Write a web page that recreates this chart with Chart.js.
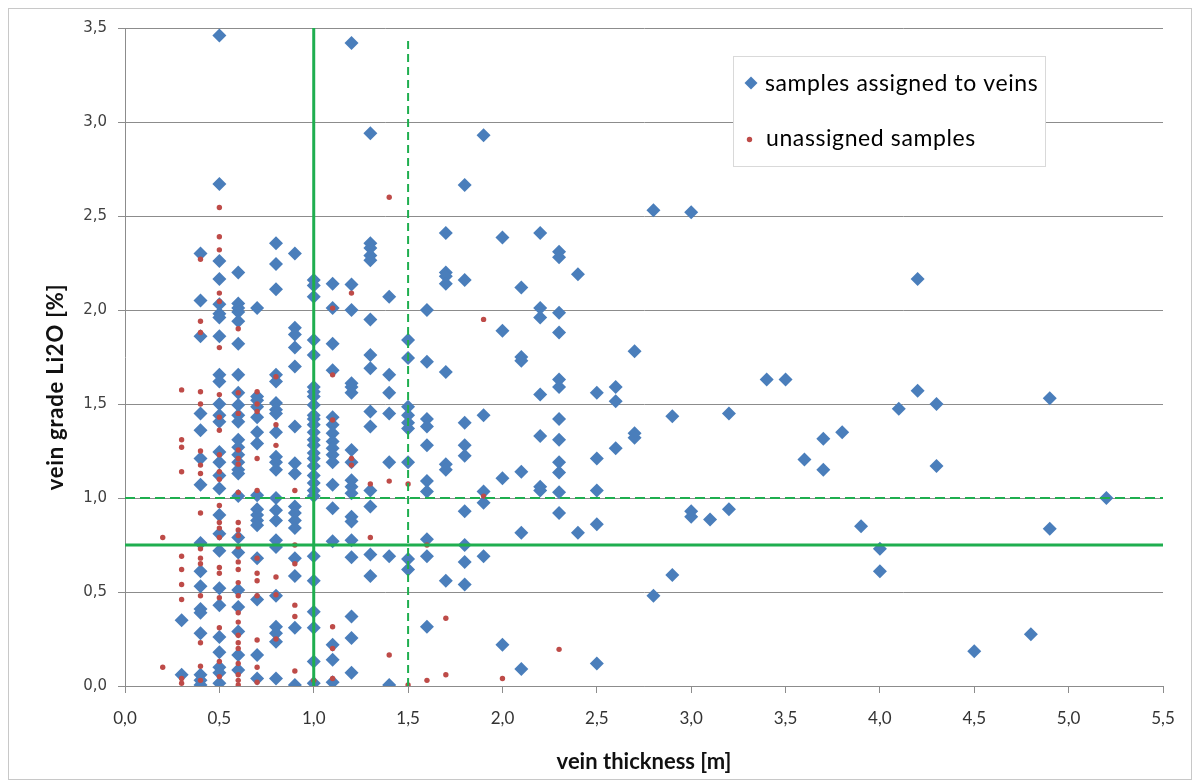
<!DOCTYPE html>
<html><head><meta charset="utf-8">
<script src="https://cdn.jsdelivr.net/npm/chart.js@4/dist/chart.umd.min.js"></script>
<style>html,body{margin:0;padding:0;background:#fff}#wrap{width:1200px;height:784px;position:relative}</style>
</head><body><div id="wrap"><canvas id="c" width="1200" height="784"></canvas></div>
<script>
// ---- data: [thickness, [grades...]] ----
const assignedByThickness = [
 [0.3,[0.35,0.06]],
 [0.4,[2.30,2.05,1.86,1.45,1.36,1.21,1.07,0.76,0.61,0.53,0.41,0.39,0.28,0.06,0.03,0.005]],
 [0.5,[3.46,2.67,2.26,2.165,2.03,1.98,1.96,1.86,1.655,1.62,1.50,1.44,1.405,1.245,1.19,1.12,1.05,0.91,0.81,0.72,0.52,0.43,0.26,0.18,0.10,0.07,0.015]],
 [0.6,[2.20,2.035,2.01,1.99,1.94,1.82,1.655,1.56,1.495,1.44,1.405,1.31,1.27,1.23,1.19,1.15,1.13,1.01,0.79,0.71,0.51,0.42,0.29,0.165,0.085]],
 [0.7,[2.01,1.54,1.52,1.485,1.43,1.35,1.29,1.015,0.94,0.91,0.88,0.855,0.68,0.46,0.165,0.04]],
 [0.8,[2.355,2.245,2.11,1.655,1.62,1.505,1.47,1.45,1.35,1.22,1.19,1.15,1.0,0.935,0.88,0.775,0.74,0.48,0.315,0.28,0.235,0.04]],
 [0.9,[2.30,1.905,1.87,1.80,1.70,1.38,1.185,1.13,0.955,0.92,0.88,0.84,0.68,0.585,0.31,0.005]],
 [1.0,[2.16,2.13,2.07,1.84,1.76,1.59,1.565,1.54,1.495,1.44,1.42,1.39,1.35,1.31,1.28,1.24,1.21,1.17,1.12,1.08,1.04,1.01,0.69,0.56,0.395,0.31,0.13,0.015]],
 [1.1,[2.14,2.01,1.82,1.68,1.43,1.39,1.345,1.30,1.265,1.23,1.19,1.07,0.945,0.77,0.22,0.14,0.02]],
 [1.2,[3.42,2.135,2.0,1.61,1.59,1.56,1.255,1.19,1.095,1.06,1.025,0.90,0.875,0.775,0.685,0.37,0.255,0.07]],
 [1.3,[2.94,2.355,2.33,2.29,2.265,1.95,1.76,1.69,1.46,1.38,1.04,0.955,0.70,0.585]],
 [1.4,[2.07,1.655,1.56,1.45,1.19,0.69,0.005]],
 [1.5,[1.84,1.745,1.485,1.44,1.40,1.37,1.19,0.675,0.62]],
 [1.6,[2.00,1.725,1.42,1.38,1.28,1.09,1.035,0.78,0.69,0.315]],
 [1.7,[2.41,2.20,2.18,2.14,1.67,1.18,1.15,0.56]],
 [1.8,[2.665,2.16,1.40,1.28,1.225,0.93,0.75,0.66,0.54]],
 [1.9,[2.93,1.44,1.035,0.975,0.69]],
 [2.0,[2.385,1.89,1.105,0.22]],
 [2.1,[2.12,1.75,1.73,1.14,0.815,0.09]],
 [2.2,[2.41,2.01,1.96,1.55,1.33,1.06,1.04]],
 [2.3,[2.31,2.28,1.985,1.88,1.63,1.59,1.42,1.31,1.19,1.135,1.03,0.92]],
 [2.4,[2.19,0.815]],
 [2.5,[1.56,1.21,1.04,0.86,0.12]],
 [2.6,[1.59,1.515,1.265]],
 [2.7,[1.78,1.345,1.32]],
 [2.8,[2.53,0.48]],
 [2.9,[1.435,0.59]],
 [3.0,[2.52,0.93,0.90]],
 [3.1,[0.885]],
 [3.2,[1.45,0.94]],
 [3.4,[1.63]],
 [3.5,[1.63]],
 [3.6,[1.205]],
 [3.7,[1.315,1.15]],
 [3.8,[1.35]],
 [3.9,[0.85]],
 [4.0,[0.73,0.61]],
 [4.1,[1.475]],
 [4.2,[2.165,1.57]],
 [4.3,[1.50,1.17]],
 [4.5,[0.185]],
 [4.8,[0.275]],
 [4.9,[1.53,0.837]],
 [5.2,[1.0]]
];
const unassignedByThickness = [
 [0.2,[0.79,0.10]],
 [0.3,[1.575,1.31,1.27,1.14,0.69,0.62,0.54,0.46,0.04,0.015]],
 [0.4,[2.27,1.94,1.88,1.565,1.50,1.25,1.175,1.13,0.92,0.73,0.68,0.65,0.48,0.23,0.105,0.03]],
 [0.5,[2.545,2.39,2.32,2.09,2.045,1.80,1.55,1.43,1.36,1.23,1.14,1.10,0.96,0.87,0.84,0.79,0.63,0.60,0.47,0.31,0.13,0.05]],
 [0.6,[1.90,1.56,1.45,1.255,1.21,1.18,1.03,0.87,0.83,0.80,0.74,0.66,0.62,0.55,0.48,0.39,0.34,0.27,0.23,0.20,0.12,0.06,0.03,0.005]],
 [0.7,[1.565,1.50,1.46,1.21,1.04,0.68,0.60,0.56,0.48,0.245,0.10,0.02]],
 [0.8,[1.645,1.39,1.28,0.58,0.485,0.25]],
 [0.9,[1.04,0.75,0.65,0.43,0.37,0.08]],
 [1.0,[0.03]],
 [1.1,[2.01,1.655,1.415,0.315,0.20,0.04]],
 [1.2,[2.09,1.21,1.175]],
 [1.3,[1.075,0.79]],
 [1.4,[2.60,1.09,0.165]],
 [1.5,[1.075,0.005]],
 [1.6,[0.75,0.03]],
 [1.7,[0.36,0.06]],
 [1.9,[1.95,1.01]],
 [2.0,[0.04]],
 [2.3,[0.195]]
];
const seriesNames = ['samples assigned to veins', 'unassigned samples'];
const cutoffThickness = [1.0, 1.5];   // solid, dashed
const cutoffGrade = [0.75, 1.0];      // solid, dashed
const xTickLabels = ['0,0','0,5','1,0','1,5','2,0','2,5','3,0','3,5','4,0','4,5','5,0','5,5'];
const yTickLabels = ['0,0','0,5','1,0','1,5','2,0','2,5','3,0','3,5'];
const xTitle = 'vein thickness [m]';
const yTitle = 'vein grade Li2O [%]';

const X_MAX = 5.5, Y_MAX = 3.5;
const toPoints = cols => cols.flatMap(([x, ys]) => ys.map(y => ({x, y})));

const BLUE = '#4a7ebb', RED = '#be4b48', GREEN = '#1fae4f', GRID = '#8c8c8c';
const TITLE_FONT = 'bold 22px Lato, "Open Sans", sans-serif';

const frame = {
  id: 'frame',
  beforeDraw(chart) {
    const c = chart.ctx;
    c.save();
    c.fillStyle = '#fff'; c.fillRect(0, 0, chart.width, chart.height);
    c.strokeStyle = '#c8c8c8'; c.lineWidth = 1;
    c.strokeRect(8.5, 8.5, 1183, 771);
    c.restore();
  },
  afterDraw(chart) {
    const c = chart.ctx;
    c.save();
    // y-axis title (Excel centres it on the whole chart height)
    c.font = TITLE_FONT; c.fillStyle = '#111';
    c.letterSpacing = '0.8px';
    c.textAlign = 'center'; c.textBaseline = 'middle';
    c.translate(56, 387); c.rotate(-Math.PI / 2);
    c.fillText(yTitle, 0, 0);
    c.restore();

    c.save();
    const bx = 733, by = 56, bw = 312, bh = 110;
    c.fillStyle = '#fff'; c.fillRect(bx, by, bw, bh);
    c.strokeStyle = '#d9d9d9'; c.lineWidth = 1;
    c.strokeRect(bx + 0.5, by + 0.5, bw, bh);
    const d = chart.data.datasets;
    c.fillStyle = d[0].backgroundColor;
    c.beginPath(); c.moveTo(751, 76.5); c.lineTo(757.5, 83); c.lineTo(751, 89.5); c.lineTo(744.5, 83); c.closePath(); c.fill();
    c.fillStyle = d[1].backgroundColor;
    c.beginPath(); c.arc(749.5, 139.5, 2.7, 0, Math.PI * 2); c.fill();
    c.font = '23px Lato, "Open Sans", sans-serif';
    c.letterSpacing = '0.6px';
    c.fillStyle = '#000'; c.textBaseline = 'middle'; c.textAlign = 'left';
    c.fillText(d[0].label, 765, 84);
    c.fillText(d[1].label, 766, 139);
    c.restore();
  }
};

new Chart(document.getElementById('c'), {
  type: 'scatter',
  data: {
    datasets: [
      { label: seriesNames[0], data: toPoints(assignedByThickness), pointStyle: 'rectRot', pointRadius: 7, pointHoverRadius: 7,
        backgroundColor: BLUE, borderColor: BLUE, borderWidth: 0, order: 2 },
      { label: seriesNames[1], data: toPoints(unassignedByThickness), pointStyle: 'circle', pointRadius: 2.7, pointHoverRadius: 2.7,
        backgroundColor: RED, borderColor: RED, borderWidth: 0, order: 1 },
      { label: 'cutoff-x-solid', data: [{x: cutoffThickness[0], y: 0}, {x: cutoffThickness[0], y: Y_MAX}], showLine: true, pointRadius: 0,
        borderColor: GREEN, borderWidth: 3, order: 0 },
      { label: 'cutoff-x-dashed', data: [{x: cutoffThickness[1], y: 0}, {x: cutoffThickness[1], y: 3.45}], showLine: true, pointRadius: 0,
        borderColor: GREEN, borderWidth: 2, borderDash: [8, 5], order: 0 },
      { label: 'cutoff-y-solid', data: [{x: 0, y: cutoffGrade[0]}, {x: X_MAX, y: cutoffGrade[0]}], showLine: true, pointRadius: 0,
        borderColor: GREEN, borderWidth: 3, order: 0 },
      { label: 'cutoff-y-dashed', data: [{x: 0, y: cutoffGrade[1]}, {x: X_MAX, y: cutoffGrade[1]}], showLine: true, pointRadius: 0,
        borderColor: GREEN, borderWidth: 2, borderDash: [10, 5], order: 0 }
    ]
  },
  options: {
    responsive: false, animation: false, events: [],
    layout: { padding: { left: 0, right: 37, top: 28, bottom: 0 } },
    plugins: { legend: { display: false }, tooltip: { enabled: false } },
    scales: {
      x: {
        type: 'linear', min: 0, max: X_MAX,
        afterFit(s) { s.height = 98; },
        ticks: { stepSize: 0.5, padding: 15, color: '#333', font: { family: 'Lato, sans-serif', size: 17 },
          callback: (v) => xTickLabels[Math.round(v / 0.5)] },
        grid: { drawOnChartArea: false, drawTicks: true, tickLength: 7, color: GRID },
        border: { color: GRID, width: 1 },
        title: { display: true, text: xTitle, color: '#111', font: { family: 'Lato, "Open Sans", sans-serif', size: 22, weight: 'bold' }, padding: { top: 0, bottom: 9 } }
      },
      y: {
        type: 'linear', min: 0, max: Y_MAX,
        afterFit(s) { s.width = 125; },
        ticks: { stepSize: 0.5, padding: 11, color: '#404040', font: { family: '"DejaVu Sans", sans-serif', size: 15 },
          callback: (v) => yTickLabels[Math.round(v / 0.5)] },
        grid: { drawTicks: true, tickLength: 7, color: GRID, lineWidth: 1 },
        border: { color: GRID, width: 1 },
        title: { display: false, text: yTitle }
      }
    }
  },
  plugins: [frame]
});
</script></body></html>
